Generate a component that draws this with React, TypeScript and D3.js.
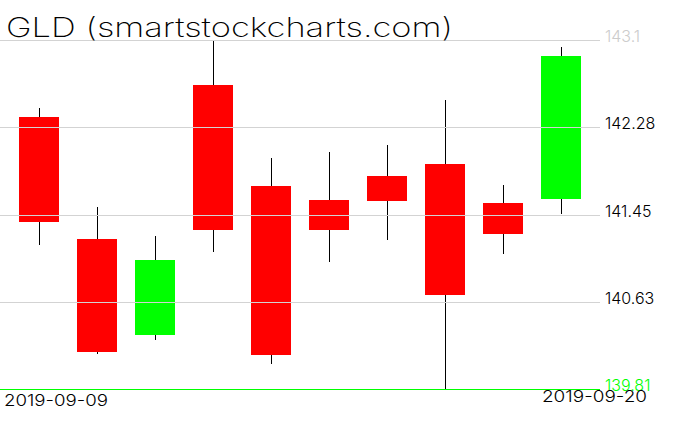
import * as d3 from 'd3'
import React, { useEffect, useRef } from 'react'

// GLD daily candles, 2019-09-09 .. 2019-09-20
const dates = [
  '2019-09-09', '2019-09-10', '2019-09-11', '2019-09-12', '2019-09-13',
  '2019-09-16', '2019-09-17', '2019-09-18', '2019-09-19', '2019-09-20',
]
const opens = [142.37, 141.22, 140.32, 142.68, 141.72, 141.59, 141.82, 141.93, 141.56, 141.6]
const highs = [142.46, 141.53, 141.25, 143.09, 141.99, 142.04, 142.11, 142.53, 141.73, 143.03]
const lows = [141.17, 140.14, 140.27, 141.1, 140.05, 141.01, 141.21, 139.81, 141.08, 141.46]
const closes = [141.38, 140.16, 141.03, 141.31, 140.13, 141.31, 141.58, 140.7, 141.27, 142.95]
const yTicks = [139.81, 140.63, 141.45, 142.28, 143.1]
const title = 'GLD (smartstockcharts.com)'

const W = 676
const H = 431
const FONT = 'Inter, Roboto, "DejaVu Sans", sans-serif'

const App = () => {
  const ref = useRef<SVGSVGElement>(null)

  useEffect(() => {
    const svg = d3.select(ref.current)
    svg.selectAll('*').remove()

    const plotRight = 600
    const x = d3.scalePoint<string>().domain(dates).range([10, 590]).padding(0.5)
    const y = d3.scaleLinear().domain([yTicks[0], yTicks[yTicks.length - 1]]).range([389, 40])
    const bodyW = 40

    const data = dates.map((d, i) => ({ d, o: opens[i], h: highs[i], l: lows[i], c: closes[i] }))

    // candles
    const g = svg.append('g').attr('shape-rendering', 'crispEdges')
    g.selectAll('line.wick')
      .data(data)
      .join('line')
      .attr('class', 'wick')
      .attr('x1', (d) => Math.round(x(d.d)!) + 0.5)
      .attr('x2', (d) => Math.round(x(d.d)!) + 0.5)
      .attr('y1', (d) => y(d.h))
      .attr('y2', (d) => y(d.l))
      .attr('stroke', '#000')
      .attr('stroke-width', 1)

    g.selectAll('rect.body')
      .data(data)
      .join('rect')
      .attr('class', 'body')
      .attr('x', (d) => Math.round(x(d.d)! - bodyW / 2))
      .attr('width', bodyW)
      .attr('y', (d) => y(Math.max(d.o, d.c)))
      .attr('height', (d) => Math.abs(y(d.o) - y(d.c)))
      .attr('fill', (d) => (d.c >= d.o ? '#00ff00' : '#ff0000'))

    // grid on top of candles
    const grid = svg.append('g').attr('shape-rendering', 'crispEdges')
    grid.selectAll('line')
      .data(yTicks.slice(1))
      .join('line')
      .attr('x1', 0)
      .attr('x2', plotRight)
      .attr('y1', (v) => Math.round(y(v)) + 0.5)
      .attr('y2', (v) => Math.round(y(v)) + 0.5)
      .attr('stroke', '#d3d3d3')
      .attr('stroke-width', 1)

    // base line at the lowest tick, drawn as a thin filled rect
    svg.append('rect')
      .attr('x', 0)
      .attr('width', plotRight)
      .attr('y', Math.round(y(yTicks[0])))
      .attr('height', 1)
      .attr('fill', '#00ff00')
      .attr('shape-rendering', 'crispEdges')

    // y labels
    svg.append('g')
      .selectAll('text')
      .data(yTicks)
      .join('text')
      .attr('x', 605)
      .attr('y', (v) => y(v) + 2)
      .attr('font-family', FONT)
      .attr('font-weight', 300)
      .attr('font-size', 16)
      .attr('fill', (v, i) => (i === 0 ? '#00ff00' : i === yTicks.length - 1 ? '#cccccc' : '#000'))
      .text((v) => String(v))

    // date labels
    svg.append('text')
      .attr('x', 4)
      .attr('y', 406)
      .attr('font-family', FONT)
      .attr('font-weight', 300)
      .attr('font-size', 16)
      .attr('textLength', 104)
      .attr('lengthAdjust', 'spacingAndGlyphs')
      .text(dates[0])
    svg.append('text')
      .attr('x', 542)
      .attr('y', 402)
      .attr('font-family', FONT)
      .attr('font-weight', 300)
      .attr('font-size', 16)
      .attr('textLength', 105)
      .attr('lengthAdjust', 'spacingAndGlyphs')
      .text(dates[dates.length - 1])

    // title
    svg.append('text')
      .attr('x', 6)
      .attr('y', 37)
      .attr('font-family', FONT)
      .attr('font-weight', 200)
      .attr('font-size', 27)
      .attr('textLength', 447)
      .attr('lengthAdjust', 'spacingAndGlyphs')
      .text(title)
  }, [])

  return (
    <svg
      ref={ref}
      width={W}
      height={H}
      style={{ position: 'absolute', left: 0, top: 0, background: '#fff' }}
    />
  )
}

export default App
